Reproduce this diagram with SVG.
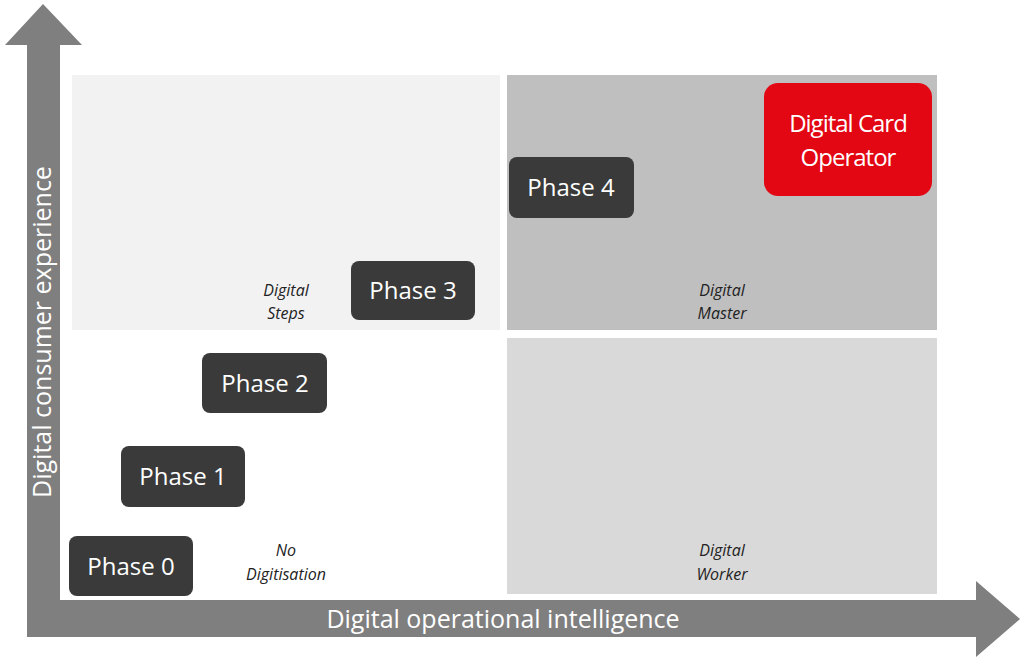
<svg xmlns="http://www.w3.org/2000/svg" width="1024" height="663" viewBox="0 0 1024 663">
<style>
.ph rect{fill:#3a3a3a}
.ph text{fill:#fff;font-family:"Open Sans","Liberation Sans",sans-serif;font-size:24px;text-anchor:middle}
.lbl{font-family:"Open Sans","Liberation Sans",sans-serif;font-size:16px;font-style:italic;fill:#222;text-anchor:middle}
.ax{fill:#fff;font-family:"Open Sans","Liberation Sans",sans-serif;font-size:25px;text-anchor:middle}
</style>
<rect width="1024" height="663" fill="#fff"/>
<g id="connectors">
<path d="M27,637 V45 H5 L43,4 L82,45 H60 V600 H976 V581 L1020,619 L976,657 V637 Z" fill="#7f7f7f"/>
</g>
<text class="ax" x="503" y="628">Digital operational intelligence</text>
<text class="ax" transform="translate(51,332) rotate(-90)">Digital consumer experience</text>
<g id="quadrants">
<rect x="72" y="75" width="428" height="255" fill="#f2f2f2"/>
<rect x="507" y="75" width="430" height="255" fill="#bfbfbf"/>
<rect x="507" y="338" width="430" height="256" fill="#d9d9d9"/>
</g>
<text class="lbl" x="286" y="296">Digital</text><text class="lbl" x="286" y="319">Steps</text>
<text class="lbl" x="722" y="296">Digital</text><text class="lbl" x="722" y="319">Master</text>
<text class="lbl" x="722" y="556">Digital</text><text class="lbl" x="722" y="580">Worker</text>
<text class="lbl" x="286" y="556">No</text><text class="lbl" x="286" y="580">Digitisation</text>
<g id="phase0" class="ph"><rect x="69" y="536" width="124" height="60" rx="8"/><text x="131" y="575">Phase 0</text></g>
<g id="phase1" class="ph"><rect x="121" y="446" width="124" height="61" rx="8"/><text x="183" y="485">Phase 1</text></g>
<g id="phase2" class="ph"><rect x="202" y="353" width="125" height="60" rx="8"/><text x="265" y="392">Phase 2</text></g>
<g id="phase3" class="ph"><rect x="351" y="261" width="124" height="59" rx="8"/><text x="413" y="299">Phase 3</text></g>
<g id="phase4" class="ph"><rect x="509" y="157" width="125" height="61" rx="8"/><text x="571" y="196">Phase 4</text></g>
<g id="dco" class="ph"><rect x="764" y="83" width="168" height="113" rx="14" fill="#e30613" style="fill:#e30613"/><text x="848" y="132" style="letter-spacing:-1px">Digital Card</text><text x="848" y="166" style="letter-spacing:-1px">Operator</text></g>
</svg>
